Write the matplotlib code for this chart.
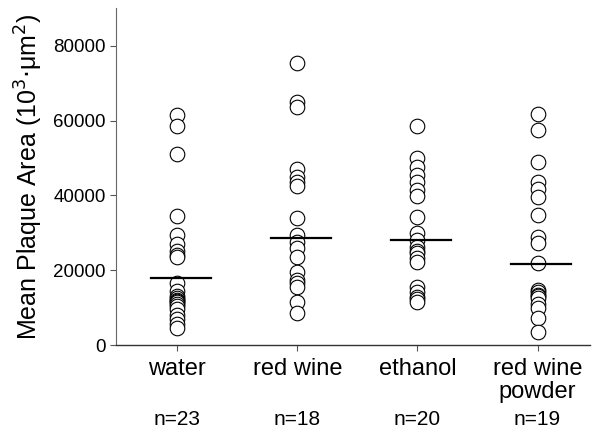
import matplotlib
matplotlib.use('Agg')
import matplotlib.pyplot as plt
import matplotlib.transforms as mtransforms

plt.rcParams['font.family'] = ['Liberation Sans', 'DejaVu Sans']

# Values (10^3 um^2)
categories = ['water', 'red wine', 'ethanol', 'red wine\npowder']
n_labels = ['n=23', 'n=18', 'n=20', 'n=19']

water = [61500, 58500, 51000, 34500, 29500, 27000, 25000, 24000, 23500,
         16500, 14500, 13000, 12500, 12000, 11800, 11500, 11000, 10500,
         9500, 8000, 7000, 5500, 4500]
red_wine = [75400, 65000, 63500, 47000, 45000, 43500, 42500, 34000, 29500,
            27500, 26000, 23500, 19500, 17500, 16500, 15500, 11500, 8500]
ethanol = [58500, 50000, 47700, 45500, 43700, 41500, 39700, 34300, 29900,
           28100, 26300, 25000, 24500, 23200, 22300, 15600, 14300, 12900,
           12200, 11600]
powder = [61800, 57500, 48800, 43500, 41800, 39500, 34800, 29000, 27300,
          21800, 14700, 14200, 13400, 13000, 12500, 11000, 9800, 7100, 3500]
means = [18000, 28500, 28000, 21700]

groups = [water, red_wine, ethanol, powder]

fig = plt.figure(figsize=(5.93, 4.34), dpi=100)
ax = fig.add_axes([0.1956, 0.205, 0.80, 0.776])

for i, vals in enumerate(groups):
    x = i + 1
    ax.plot([x] * len(vals), vals, linestyle='none', marker='o',
            markersize=10.5, markerfacecolor='white', markeredgecolor='black',
            markeredgewidth=0.8, zorder=3)
    ax.plot([x - 0.22, x + 0.28], [means[i], means[i]], color='black',
            linewidth=1.6, zorder=4)

ax.set_xlim(0.49, 4.44)
ax.set_ylim(0, 90000)
ax.set_yticks([0, 20000, 40000, 60000, 80000])
ax.set_xticks([1, 2, 3, 4])
ax.set_xticklabels(categories, fontsize=17, linespacing=1.1)
ax.tick_params(axis='x', length=4, width=0.8, color='#555555', pad=5)
ax.tick_params(axis='y', labelsize=13.5, length=4, width=0.8, color='#555555')

for side in ['top', 'right']:
    ax.spines[side].set_visible(False)
ax.spines['left'].set_color('#666666')
ax.spines['bottom'].set_color('#333333')
ax.spines['left'].set_linewidth(0.8)
ax.spines['bottom'].set_linewidth(1.0)

ax.set_ylabel('Mean Plaque Area (10$^{3}$$\\cdot$\u03bcm$^{2}$)', fontsize=18)
ax.yaxis.set_label_coords(-0.15, 0.5)

trans = mtransforms.blended_transform_factory(ax.transData, ax.transAxes)
for i, lab in enumerate(n_labels):
    ax.text(i + 1, -0.222, lab, transform=trans, ha='center', va='center',
            fontsize=15)

fig.savefig('out.png', dpi=100)
